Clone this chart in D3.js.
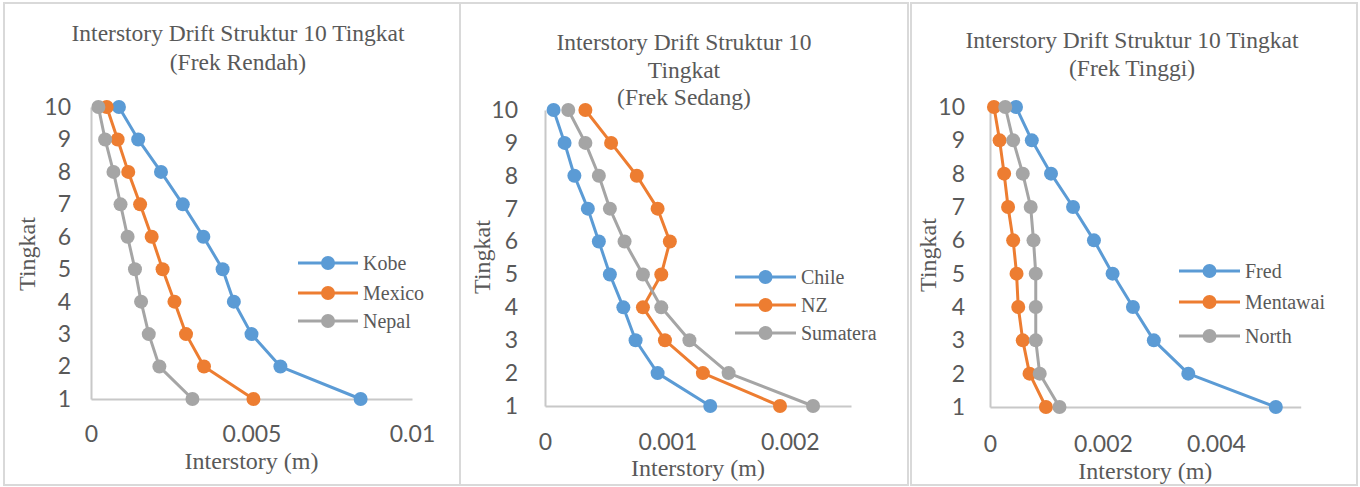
<!DOCTYPE html>
<html>
<head>
<meta charset="utf-8">
<script src="https://cdn.jsdelivr.net/npm/d3@7"></script>
<style>
  html, body { margin: 0; padding: 0; background: #ffffff; }
  svg { display: block; }
</style>
</head>
<body>
<svg id="chart" width="1360" height="487"></svg>
<script>
// ---------- DATA ----------
const levels = [1, 2, 3, 4, 5, 6, 7, 8, 9, 10];
const levelTicks = [1, 2, 3, 4, 5, 6, 7, 8, 9, 10];

// Panel 1 (Frek Rendah)
const kobe   = [0.0084, 0.0059, 0.0050, 0.00445, 0.0041, 0.0035, 0.00286, 0.00218, 0.00147, 0.00087];
const mexico = [0.00506, 0.00352, 0.00296, 0.0026, 0.00223, 0.00189, 0.00153, 0.00116, 0.00083, 0.00049];
const nepal  = [0.00316, 0.00213, 0.0018, 0.00156, 0.00137, 0.00114, 0.00092, 0.0007, 0.00044, 0.00023];
const ticks1 = [0, 0.005, 0.01];
const tickLabels1 = ["0", "0.005", "0.01"];

// Panel 2 (Frek Sedang)
const chile    = [0.00135, 0.00092, 0.00074, 0.00064, 0.00053, 0.00044, 0.00035, 0.00024, 0.00016, 0.00007];
const nz       = [0.00192, 0.00129, 0.00098, 0.0008, 0.00095, 0.00102, 0.00092, 0.00075, 0.00054, 0.00033];
const sumatera = [0.00219, 0.0015, 0.00118, 0.00095, 0.0008, 0.00065, 0.00053, 0.00044, 0.00033, 0.00019];
const ticks2 = [0, 0.001, 0.002];
const tickLabels2 = ["0", "0.001", "0.002"];

// Panel 3 (Frek Tinggi)
const fred     = [0.00506, 0.00351, 0.0029, 0.00253, 0.00217, 0.00184, 0.00147, 0.00108, 0.00074, 0.00046];
const mentawai = [0.00099, 0.0007, 0.00058, 0.0005, 0.00047, 0.00041, 0.00032, 0.00025, 0.00017, 0.00007];
const north    = [0.00123, 0.00088, 0.00081, 0.00081, 0.00081, 0.00077, 0.00072, 0.00058, 0.00041, 0.00027];
const ticks3 = [0, 0.002, 0.004];
const tickLabels3 = ["0", "0.002", "0.004"];

const titles = [
  ["Interstory Drift Struktur 10 Tingkat", "(Frek Rendah)"],
  ["Interstory Drift Struktur 10", "Tingkat", "(Frek Sedang)"],
  ["Interstory Drift Struktur 10 Tingkat", "(Frek Tinggi)"]
];
const xTitle = "Interstory (m)";
const yTitle = "Tingkat";

// ---------- LAYOUT / STYLE ----------
const colors = ["#5B9BD5", "#ED7D31", "#A5A5A5"];
const textColor = "#595959";
const axisColor = "#C8C8C8";
const serif = "'Liberation Serif', 'Times New Roman', serif";
const sans = "Lato, 'Noto Sans', sans-serif";
const tickSize = 23, titleSize = 23.5, axisTitleSize = 24, legendSize = 20;

const panels = [
  {
    box: [4, 3, 457, 482],
    xDomain: [0, 0.01], xRange: [91, 412],
    yRange: [399, 107],
    ticks: ticks1, tickLabels: tickLabels1,
    series: [["Kobe", kobe], ["Mexico", mexico], ["Nepal", nepal]],
    title: titles[0], titleX: 238, titleY: 41, titleStep: 28.5,
    yLabelRight: 71, xLabelY: 442, xTitleY: 469, yTitleX: 35, yTitleY: 254,
    legend: { x1: 298, x2: 358, textX: 363, ys: [263, 293, 321] }
  },
  {
    box: [460, 3, 448, 482],
    xDomain: [0, 0.0025], xRange: [545, 851],
    yRange: [406, 110],
    ticks: ticks2, tickLabels: tickLabels2,
    series: [["Chile", chile], ["NZ", nz], ["Sumatera", sumatera]],
    title: titles[1], titleX: 684, titleY: 50, titleStep: 27.5,
    yLabelRight: 518, xLabelY: 450, xTitleY: 476, yTitleX: 490, yTitleY: 257,
    legend: { x1: 735, x2: 796, textX: 801, ys: [277, 305, 333] }
  },
  {
    box: [911, 3, 446, 482],
    xDomain: [0, 0.0055], xRange: [990, 1300.7],
    yRange: [407, 107],
    ticks: ticks3, tickLabels: tickLabels3,
    series: [["Fred", fred], ["Mentawai", mentawai], ["North", north]],
    title: titles[2], titleX: 1132, titleY: 48, titleStep: 28,
    yLabelRight: 965, xLabelY: 452, xTitleY: 479, yTitleX: 936, yTitleY: 255,
    legend: { x1: 1179, x2: 1240, textX: 1245, ys: [271, 302, 336] }
  }
];

const svg = d3.select("#chart");
svg.append("rect").attr("x", 0).attr("y", 0).attr("width", 1360).attr("height", 487).attr("fill", "#ffffff");

panels.forEach(p => {
  const g = svg.append("g");
  g.append("rect")
    .attr("x", p.box[0]).attr("y", p.box[1])
    .attr("width", p.box[2]).attr("height", p.box[3])
    .attr("fill", "#ffffff").attr("stroke", "#D9D9D9").attr("stroke-width", 2);

  const x = d3.scaleLinear().domain(p.xDomain).range(p.xRange);
  const y = d3.scaleLinear().domain([1, 10]).range(p.yRange);

  // Axes
  const yAxis = d3.axisLeft(y).tickValues(levelTicks).tickSize(0).tickPadding(p.xRange[0] - p.yLabelRight)
    .tickFormat(d3.format("d"));
  const ya = g.append("g").attr("transform", `translate(${p.xRange[0]},0)`).call(yAxis);
  ya.select(".domain").attr("stroke", axisColor).attr("stroke-width", 2);
  ya.selectAll("text").attr("font-family", sans).attr("font-size", tickSize).attr("fill", textColor);

  const xAxis = d3.axisBottom(x).tickValues(p.ticks).tickSize(0)
    .tickFormat((d, i) => p.tickLabels[i]);
  const xa = g.append("g").attr("transform", `translate(0,${p.yRange[0]})`).call(xAxis);
  xa.select(".domain").attr("stroke", axisColor).attr("stroke-width", 2);
  xa.selectAll("text").attr("font-family", sans).attr("font-size", tickSize).attr("fill", textColor)
    .attr("dy", null).attr("y", p.xLabelY - p.yRange[0]);

  // Title
  const t = g.append("text").attr("text-anchor", "middle")
    .attr("font-family", serif).attr("font-size", titleSize).attr("fill", textColor);
  p.title.forEach((line, i) => {
    t.append("tspan").attr("x", p.titleX).attr("y", p.titleY + i * p.titleStep).text(line);
  });

  // Axis titles
  g.append("text").attr("x", (p.xRange[0] + p.xRange[1]) / 2).attr("y", p.xTitleY)
    .attr("text-anchor", "middle").attr("font-family", serif).attr("font-size", axisTitleSize)
    .attr("fill", textColor).text(xTitle);
  g.append("text").attr("transform", `translate(${p.yTitleX},${p.yTitleY}) rotate(-90)`)
    .attr("text-anchor", "middle").attr("font-family", serif).attr("font-size", axisTitleSize)
    .attr("fill", textColor).text(yTitle);

  // Series
  const line = d3.line().x(d => x(d[1])).y(d => y(d[0]));
  p.series.forEach(([name, vals], si) => {
    const pts = levels.map((lv, i) => [lv, vals[i]]);
    g.append("path").datum(pts).attr("d", line)
      .attr("fill", "none").attr("stroke", colors[si]).attr("stroke-width", 3)
      .attr("stroke-linejoin", "round");
    g.selectAll(null).data(pts).enter().append("circle")
      .attr("cx", d => x(d[1])).attr("cy", d => y(d[0])).attr("r", 7)
      .attr("fill", colors[si]);
  });

  // Legend
  p.series.forEach(([name], si) => {
    const ly = p.legend.ys[si];
    g.append("line").attr("x1", p.legend.x1).attr("x2", p.legend.x2)
      .attr("y1", ly).attr("y2", ly).attr("stroke", colors[si]).attr("stroke-width", 3);
    g.append("circle").attr("cx", (p.legend.x1 + p.legend.x2) / 2).attr("cy", ly)
      .attr("r", 7).attr("fill", colors[si]);
    g.append("text").attr("x", p.legend.textX).attr("y", ly + 7)
      .attr("font-family", serif).attr("font-size", legendSize).attr("fill", textColor).text(name);
  });
});
</script>
</body>
</html>
